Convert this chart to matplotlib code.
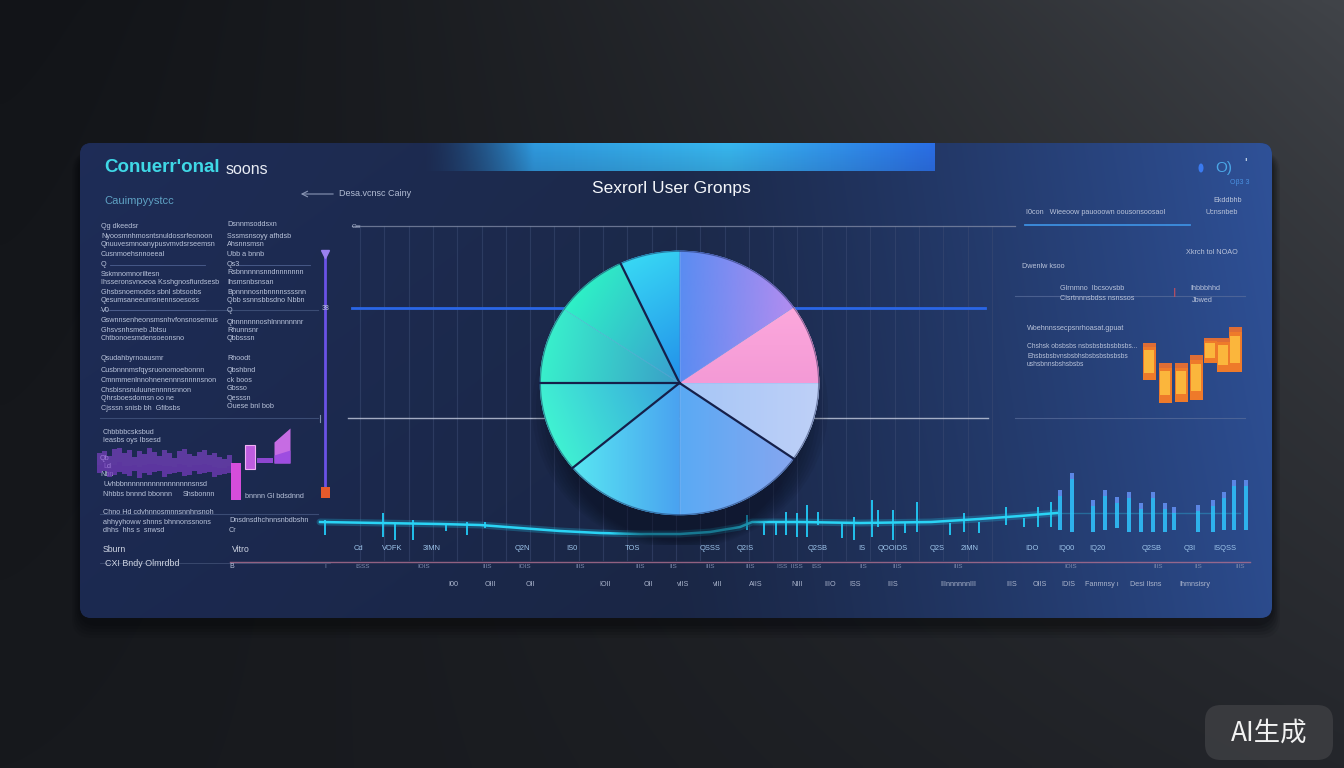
import numpy as np
import matplotlib
matplotlib.use("Agg")
import matplotlib.pyplot as plt
from matplotlib.patches import FancyBboxPatch, Rectangle, Ellipse
from matplotlib.colors import to_rgb

plt.rcParams['font.family'] = ['Liberation Sans', 'DejaVu Sans']

# ---------------- data ----------------
# pie: user groups (angular share, degrees)
pie_groups = ["G1", "G2", "G3", "G4", "G5", "G6", "G7", "G8", "G9"]
pie_values = [35, 55, 25, 31, 34, 40, 50, 55, 35]
pie_c_in = ['#f49ad6', '#5a8cf2', '#2390ea', '#3a9cd0', '#3a9ec8', '#3aa2e0', '#4aa2f0', '#5aaaf4', '#a6c6f6']
pie_c_out = ['#fca8dc', '#b28cf0', '#38d8f4', '#2ef2c6', '#38f0cc', '#40f2d2', '#58e6f2', '#86a6f0', '#bed0f8']
pie_grad_dir = [90, 0, 125, 150, 170, 200, 180, 0, 0]
sep_dark = [False, False, False, True, False, True, True, False, True]  # boundary at start of each slice

# bottom line series (x position, level)
line_x = [320, 380, 440, 480, 520, 560, 600, 640, 680, 710, 740, 752, 800, 860, 931, 979, 1020, 1057]
line_v = [38, 37, 36, 35, 32, 29, 27, 26, 26, 28, 33, 38, 38, 37, 38, 41, 44, 47]

# spikes (x position, top level, bottom level)
spike_x = [325, 383, 395, 413, 446, 467, 485, 747, 764, 776, 786, 797, 807, 818, 842, 854, 872, 878,
           893, 905, 917, 950, 964, 979, 1006, 1024, 1038, 1051]
spike_top = [40, 47, 37, 40, 37, 38, 38, 45, 38, 38, 48, 47, 55, 48, 38, 43, 60, 50,
             50, 38, 58, 37, 47, 38, 53, 42, 53, 58]
spike_bot = [25, 23, 20, 20, 29, 25, 32, 30, 25, 25, 25, 23, 23, 35, 22, 20, 23, 33,
             20, 27, 28, 25, 28, 27, 35, 33, 33, 33]

# right-side bars
bar_x = [1060, 1072, 1093, 1105, 1117, 1129, 1141, 1153, 1165, 1174, 1198, 1213, 1224, 1234, 1246]
bar_top = [70, 87, 60, 70, 63, 68, 57, 68, 57, 53, 55, 60, 68, 80, 80]
bar_bot = [30, 28, 28, 30, 32, 28, 28, 28, 28, 30, 28, 28, 30, 30, 30]

# left purple mini chart
pur_x = list(range(99, 230, 5))
pur_top = [52, 54, 49, 56, 57, 52, 55, 48, 54, 51, 57, 53, 49, 55, 52, 47, 54, 56, 51, 49, 53, 55, 50, 52, 48, 46, 50]
pur_bot = [32, 34, 28, 30, 33, 31, 29, 34, 27, 32, 30, 33, 34, 28, 31, 32, 33, 29, 30, 34, 31, 32, 33, 28, 30, 31, 32]
pk_x = [236, 250, 265]
pk_top = [42, 60, 47]
pk_bot = [5, 36, 42]
ramp_x = [274, 290]
ramp_top = [63, 77]
ramp_bot = [42, 42]

# right orange floating bars
or_x = [1149, 1165, 1181, 1196, 1210, 1223, 1235]
or_top = [67, 47, 47, 55, 72, 72, 83]
or_bot = [30, 7, 8, 10, 47, 38, 38]

# bottom axis tick labels
tick1_x = [358, 392, 432, 522, 572, 632, 710, 745, 818, 862, 893, 937, 970, 1032, 1066, 1097, 1152, 1190, 1225]
tick1 = ["Cd", "VOFK", "3IMN", "Q2N", "IS0", "TOS", "QSSS", "Q2IS", "Q2SB", "IS", "QOOIDS", "Q2S",
         "2IMN", "IDO", "IQ00", "IQ20", "Q2SB", "Q3I", "ISQSS"]
tick2_x = [325, 363, 424, 487, 525, 580, 640, 673, 710, 750, 790, 817, 863, 897, 958, 1071, 1158, 1198, 1240]
tick2 = ["I", "ISSS", "IOIS", "IIIS", "IOIS", "IIIS", "IIIS", "IIS", "IIIS", "IIIS", "ISS  IISS", "ISS",
         "IIS", "IIIS", "IIIS", "IOIS", "IIIS", "IIS", "IIIS"]
tick3_x = [453, 490, 530, 605, 648, 683, 718, 756, 797, 830, 855, 893, 958, 1012, 1040, 1068, 1102, 1146, 1195]
tick3 = ["I00", "OIII", "OII", "IOII", "OII", "vIIS", "vIII", "AIIS", "NIII", "IIIO", "ISS", "IIIS",
         "IIInnnnnnIII", "IIIS", "OIIS", "IDIS", "Fanmnsy \u0131", "Desi Ilsns", "Ihmnsisry"]

W, H = 1344, 768
fig = plt.figure(figsize=(13.44, 7.68), dpi=100)

bg = fig.add_axes([0, 0, 1, 1])
bg.set_xlim(0, W)
bg.set_ylim(H, 0)
bg.axis('off')

# ---- background gradient ----
gy, gx = np.mgrid[0:1:192j, 0:1:336j]
tl = np.array(to_rgb('#121418')); tr = np.array(to_rgb('#414449'))
bl = np.array(to_rgb('#17191d')); br = np.array(to_rgb('#24262b'))
tx = (gx ** 1.4)[..., None]; ty = gy[..., None] ** 0.8
img = (tl * (1 - tx) + tr * tx) * (1 - ty) + (bl * (1 - tx) + br * tx) * ty
bg.imshow(img, extent=(0, W, H, 0), aspect='auto', zorder=0, interpolation='bilinear')

# panel shadow (mostly below)
for i, a in enumerate([0.08, 0.10, 0.12, 0.14, 0.16]):
    pad = 16 - i * 3
    bg.add_patch(FancyBboxPatch((80 - pad / 2, 152), 1192 + pad, 470 + pad,
                                boxstyle="round,pad=0,rounding_size=20",
                                fc='#050608', ec='none', alpha=a, zorder=1))

# ---- panel ----
panel = FancyBboxPatch((80, 143), 1192, 475, boxstyle="round,pad=0,rounding_size=12",
                       fc='#1d2c54', ec='none', zorder=2)
bg.add_patch(panel)
py, px = np.mgrid[0:1:120j, 0:1:300j]
cl = np.array(to_rgb('#1d2b54')); cm = np.array(to_rgb('#1b2848')); cr = np.array(to_rgb('#2d4e92'))
t = px[..., None]
left_part = cl * (1 - np.clip(t / 0.5, 0, 1)) + cm * np.clip(t / 0.5, 0, 1)
right_t = np.clip((t - 0.5) / 0.5, 0, 1) ** 1.2
pimg = np.where(t < 0.5, left_part, cm * (1 - right_t) + cr * right_t)
pimg = pimg * (1.04 - 0.08 * py[..., None])
pim = bg.imshow(np.clip(pimg, 0, 1), extent=(80, 1272, 618, 143), aspect='auto', zorder=2.1,
                interpolation='bilinear')
pim.set_clip_path(panel)

# top gradient band
bx = np.linspace(0, 1, 300)
band = np.zeros((20, 300, 4))
c_a = np.array(to_rgb('#2a8ad6')); c_b = np.array(to_rgb('#38b8f0')); c_c = np.array(to_rgb('#2a6ee6'))
for j, v in enumerate(bx):
    if v < 0.6:
        col = c_a * (1 - v / 0.6) + c_b * (v / 0.6)
    else:
        col = c_b * (1 - (v - 0.6) / 0.4) + c_c * ((v - 0.6) / 0.4)
    band[:, j, :3] = col
    band[:, j, 3] = min(1.0, v / 0.22) ** 1.5
band[:, :, 3] *= np.linspace(1.0, 0.85, 20)[:, None]
bim = bg.imshow(band, extent=(420, 935, 171, 143), aspect='auto', zorder=2.5, interpolation='bilinear')
bim.set_clip_path(panel)

# ---- grid in chart area ----
for gxp in np.arange(360, 1015, 24.3):
    bg.plot([gxp, gxp], [226, 560], color='#3b4a72', lw=0.8, alpha=0.55, zorder=3)
bg.plot([352, 1015], [226, 226], color='#7d87a3', lw=0.9, alpha=0.8, zorder=3)
bg.plot([352, 985], [308, 308], color='#2a66e6', lw=2.0, zorder=3)
bg.plot([348, 988], [418, 418], color='#c6cde0', lw=1.0, alpha=0.8, zorder=3)
bg.plot([1015, 1245], [296, 296], color='#5a6e9c', lw=0.8, alpha=0.7, zorder=3)
bg.plot([1015, 1245], [418, 418], color='#5a6e9c', lw=0.8, alpha=0.7, zorder=3)
bg.plot([1025, 1190], [225, 225], color='#3d8fe0', lw=1.3, zorder=3)
for yy in [310, 418, 514]:
    bg.plot([100, 318], [yy, yy], color='#44557e', lw=0.8, alpha=0.8, zorder=3)
bg.plot([230, 1250], [562, 562], color='#b07090', lw=1.0, alpha=0.8, zorder=3)
bg.plot([100, 330], [563, 563], color='#55658a', lw=0.6, alpha=0.6, zorder=3)
bg.text(352, 226, "Ow", fontsize=4.5, color='#b8c2da', va='center', ha='left', zorder=4)

# vertical purple marker line
bg.plot([325, 325], [252, 492], color='#6a52e6', lw=2, zorder=4)
bg.plot([325], [254], marker='v', ms=6, color='#9a80f0', zorder=5)
bg.add_patch(Rectangle((321, 487), 9, 11, fc='#e45a2c', ec='none', zorder=5))
bg.text(322, 308, "38", fontsize=5, color='#c0c8dc', va='center', ha='left', zorder=4)
bg.plot([320, 320], [415, 422], color='#8090b0', lw=0.8, zorder=4)

# ---- texts ----
bg.text(104, 168, "Conuerr'onal", fontsize=13.5, color='#3fd8e6', va='center', ha='left', zorder=6,
        fontweight='bold')
bg.text(226, 169, "soons", fontsize=11.5, color='#e8ecf4', va='center', ha='left', zorder=6)
bg.text(104, 201, "Cauimpyystcc", fontsize=8, color='#5fa2c4', va='center', ha='left', zorder=6)
bg.annotate("", xy=(298, 194), xytext=(336, 194),
            arrowprops=dict(arrowstyle='->', color='#8a96b4', lw=0.8), zorder=6)
bg.text(339, 193, "Desa.vcnsc Cainy", fontsize=6.5, color='#b3bdd4', va='center', ha='left', zorder=6)
bg.text(671, 189, "Sexrorl User Gronps", fontsize=12.5, color='#f4f6fa', va='center', ha='center', zorder=6)

tc = '#b9c3da'
col1 = [(226, "Qg dkeedsr"), (236, "Nyoosmnhmosntsnuldossrfeonoon"), (245, "Qnuuvesmnoanypusvmvdsrseemsn"),
        (254, "Cusnmoehsnnoeeal"), (265, "Q"), (274, "Sskmnomnoriltesn"),
        (283, "Ihsseronsvnoeoa Ksshgnosfiurdsesb"), (292, "Ghsbsnoemodss sbnl sbtsoobs"),
        (301, "Qesumsaneeumsnennsoesoss"), (310, "V0"), (321, "Gswnnsenheonsmsnhvfonsnosemus"),
        (330, "Ghsvsnhsmeb Jbtsu"), (338, "Chtbonoesmdensoeonsno"), (358, "Qsudahbyrnoausmr"),
        (370, "Cusbnnnmsfqysruonomoebonnn"), (381, "Cmnmmenlnnohnenennnsnnnnsnon"),
        (390, "Chsbisnsnuluunennnnsnnon"), (399, "Qhrsboesdomsn oo ne"), (408, "Cjsssn snisb bh  Gfibsbs")]
col2 = [(225, "Dsnnmsoddsxn"), (237, "Sssmsnsoyy afhdsb"), (245, "Ahsnnsmsn"), (254, "Ubb a bnnb"),
        (264, "Qs3"), (273, "Rsbnnnnnsnndnnnnnnn"), (283, "Ihsmsnbsnsan"), (292, "Bpnnnnosnbnnnnssssnn"),
        (301, "Qbb ssnnsbbsdno Nbbn"), (310, "Q"), (322, "Qhnnnnnnoshlnnnnnnnr"), (330, "Rhunnsnr"),
        (339, "Qbbsssn"), (359, "Rhoodt"), (370, "Qbshbnd"), (380, "ck boos"), (389, "Gbsso"),
        (398, "Qesssn"), (407, "Ouese bnl bob")]
for yy, s in col1:
    bg.text(101, yy, s, fontsize=5.2, color=tc, va='center', ha='left', zorder=6)
for yy, s in col2:
    bg.text(227, yy, s, fontsize=5.2, color=tc, va='center', ha='left', zorder=6)
bg.plot([110, 205], [265, 265], color='#4e6090', lw=0.6, zorder=4)
bg.plot([238, 310], [265, 265], color='#4e6090', lw=0.6, zorder=4)
bg.plot([110, 205], [310, 310], color='#4e6090', lw=0.6, zorder=4)

low = [(103, 432, "Chbbbbcsksbud"), (103, 441, "Ieasbs oys Ibsesd"), (100, 459, "Qb"), (103, 466, "Ld"),
       (100, 475, "Nbn"), (103, 485, "Uvhbbnnnnnnnnnnnnnnnnnsnsd"), (103, 494, "Nhbbs bnnnd bbonnn"),
       (183, 494, "Shsbonnn"), (245, 497, "bnnnn Gl bdsdnnd"), (103, 513, "Chno Hd cdvhnnosmnnsnnhnsnoh"),
       (103, 522, "ahhyyhoww shnns bhnnonssnons"), (103, 531, "dhhs  hhs s  snwsd"),
       (229, 520, "Dnsdnsdhchnnsnbdbshn"), (229, 530, "Cr")]
for xx, yy, s in low:
    bg.text(xx, yy, s, fontsize=5.2, color=tc, va='center', ha='left', zorder=6)
bg.text(103, 549, "Sburn", fontsize=6.2, color='#d0d6e4', va='center', ha='left', zorder=6)
bg.text(232, 550, "Vitro", fontsize=6.2, color='#d0d6e4', va='center', ha='left', zorder=6)
bg.text(105, 563, "CXI Bndy Olmrdbd", fontsize=6.4, color='#d0d6e4', va='center', ha='left', zorder=6)
bg.text(229, 566, "B", fontsize=5, color=tc, va='center', ha='left', zorder=6)

# right texts
bg.add_patch(Ellipse((1201, 168), 5, 9, fc='#3a7af0', ec='none', zorder=6))
bg.text(1215, 168, "O)", fontsize=11, color='#4aa6e6', va='center', ha='left', zorder=6)
bg.text(1244, 164, "'", fontsize=10, color='#d0e0f0', va='center', ha='left', zorder=6)
bg.text(1230, 182, "Oβ3 3", fontsize=5, color='#4a90e0', va='center', ha='left', zorder=6)
bg.text(1213, 200, "Ekddbhb", fontsize=5.2, color=tc, va='center', ha='left', zorder=6)
bg.text(1026, 212, "I0con   Wieeoow pauooown oousonsoosaol", fontsize=5.2, color=tc, va='center', ha='left', zorder=6)
bg.text(1205, 212, "Ucnsnbeb", fontsize=5.2, color=tc, va='center', ha='left', zorder=6)
bg.text(1186, 252, "Xkrch tol NOAO", fontsize=5.2, color=tc, va='center', ha='left', zorder=6)
bg.text(1022, 267, "Dwenlw ksoo", fontsize=5.2, color=tc, va='center', ha='left', zorder=6)
bg.text(1060, 289, "Glrnmno  Ibcsovsbb", fontsize=5.2, color=tc, va='center', ha='left', zorder=6)
bg.text(1060, 299, "Clsrtnnnsbdss nsnssos", fontsize=5.2, color=tc, va='center', ha='left', zorder=6)
bg.text(1173, 294, "I", fontsize=9, color='#c05060', va='center', ha='left', zorder=6)
bg.text(1190, 289, "Ihbbbhhd", fontsize=5.2, color=tc, va='center', ha='left', zorder=6)
bg.text(1192, 300, "Jbwed", fontsize=5.2, color=tc, va='center', ha='left', zorder=6)
bg.text(1027, 328, "Woehnnssecpsnrhoasat.gpuat", fontsize=5.2, color=tc, va='center', ha='left', zorder=6)
bg.text(1027, 347, "Chshsk obsbsbs nsbsbsbsbsbbsbs...", fontsize=4.8, color=tc, va='center', ha='left', zorder=6)
bg.text(1027, 356, "Ehsbsbsbvnsbsbhsbsbsbsbsbsbs", fontsize=4.8, color=tc, va='center', ha='left', zorder=6)
bg.text(1027, 365, "ushsbnnsbshsbsbs", fontsize=4.8, color=tc, va='center', ha='left', zorder=6)

for xx, s in zip(tick1_x, tick1):
    bg.text(xx, 548, s, fontsize=5.4, color='#9fc6ec', va='center', ha='center', zorder=6)
for xx, s in zip(tick2_x, tick2):
    bg.text(xx, 567, s, fontsize=4.6, color='#7f8cae', va='center', ha='center', zorder=6)
for xx, s in zip(tick3_x, tick3):
    bg.text(xx, 584, s, fontsize=5.2, color='#aab4cc', va='center', ha='center', zorder=6)


def px_axes(x0, y0, x1, y1, z=5):
    a = fig.add_axes([x0 / W, 1 - y1 / H, (x1 - x0) / W, (y1 - y0) / H])
    a.set_zorder(z)
    a.patch.set_alpha(0)
    a.axis('off')
    return a


# ---- bottom line / spikes chart (value = 560 - pixel y) ----
axb = px_axes(300, 440, 1260, 560, z=4)
axb.set_xlim(300, 1260)
axb.set_ylim(0, 120)
axb.plot(line_x, line_v, color='#22c8f0', lw=5, alpha=0.25, solid_capstyle='round')
axb.plot(line_x, line_v, color='#2ad4f5', lw=1.8)
axb.plot([1057, 1240], [47, 47], color='#2ad4f5', lw=1.0, alpha=0.3)
axb.bar(spike_x, np.array(spike_top) - np.array(spike_bot), bottom=spike_bot, width=2.6,
        color='#22c6f2', alpha=0.95)
bt = np.array(bar_top); bb = np.array(bar_bot)
axb.bar(bar_x, bt - bb, bottom=bb, width=4.5, color='#2fb8f2', alpha=0.95)
axb.bar(bar_x, np.minimum(6, bt - bb), bottom=bt - np.minimum(6, bt - bb), width=4.5,
        color='#7a6ae0', alpha=0.6)

# ---- pie ----
axs = px_axes(520, 240, 840, 545, z=5.5)
axs.set_xlim(-1, 1); axs.set_ylim(-1, 1)
for k in range(8):
    axs.add_patch(Ellipse((0.0, -0.1 - 0.012 * k), 1.85 - 0.05 * k, 1.85 - 0.04 * k,
                          fc='#070b18', ec='none', alpha=0.07))
axp = px_axes(539, 250, 820, 516, z=6)
wedges, _ = axp.pie(pie_values, startangle=0, counterclock=True, radius=1,
                    colors=pie_c_in, wedgeprops=dict(lw=0))
axp.set_aspect('auto')
axp.set_xlim(-1, 1); axp.set_ylim(-1, 1)
gyy, gxx = np.mgrid[-1:1:240j, -1:1:240j]
rr = np.hypot(gxx, gyy)
th = np.degrees(np.arctan2(gyy, gxx)) % 360
starts = np.cumsum([0] + pie_values[:-1])
for w, c1, c2, ang, s0, v in zip(wedges, pie_c_in, pie_c_out, pie_grad_dir, starts, pie_values):
    a = np.deg2rad(ang)
    proj = gxx * np.cos(a) + gyy * np.sin(a)
    m = (rr <= 1) & (((th - s0) % 360) <= v)
    lo, hi = proj[m].min(), proj[m].max()
    tt = np.clip((proj - lo) / (hi - lo + 1e-9), 0, 1)[..., None]
    gim = np.array(to_rgb(c1)) * (1 - tt) + np.array(to_rgb(c2)) * tt
    im = axp.imshow(gim, extent=(-1, 1, -1, 1), origin='lower', aspect='auto',
                    interpolation='bilinear', zorder=2)
    im.set_clip_path(w)
for b, dark in zip(starts, sep_dark):
    a = np.deg2rad(b)
    if dark:
        axp.plot([0, np.cos(a)], [0, np.sin(a)], color='#15204a', lw=1.6, zorder=3)
    else:
        axp.plot([0, np.cos(a) * 0.99], [0, np.sin(a) * 0.99], color='#8fb6f0', lw=0.6, alpha=0.35, zorder=3)
ring = np.linspace(0, 2 * np.pi, 300)
axp.plot(np.cos(ring) * 0.995, np.sin(ring) * 0.995, color='#1a2550', lw=0.8, alpha=0.5, zorder=3)
axp.set_xlim(-1.005, 1.005); axp.set_ylim(-1.005, 1.005)

# ---- left purple mini chart (value = 505 - pixel y) ----
axl = px_axes(90, 420, 300, 505, z=5)
axl.set_xlim(90, 300); axl.set_ylim(0, 85)
pt = np.array(pur_top); pb = np.array(pur_bot)
axl.bar(pur_x, pt - pb, bottom=pb, width=5.0, color='#8a46d4', alpha=0.6)
axl.bar(pur_x, (pt - pb) * 0.4, bottom=pb, width=5.0, color='#5a2ea0', alpha=0.3)
kt = np.array(pk_top); kb = np.array(pk_bot)
axl.bar(pk_x, kt - kb, bottom=kb, width=[10, 10, 16], color=['#e050e4', '#c860e8', '#9448d8'], alpha=0.95)
axl.bar(pk_x[1], kt[1] - kb[1], bottom=kb[1], width=10, fc='none', ec='#f0b0f4', lw=0.8)
axl.fill_between(ramp_x, ramp_bot, ramp_top, color='#d070ec', alpha=0.95, lw=0)
axl.fill_between(ramp_x, ramp_bot, [50, 55], color='#9a4ae0', alpha=0.9, lw=0)

# ---- right orange chart (value = 410 - pixel y) ----
axo = px_axes(1140, 320, 1245, 410, z=5)
axo.set_xlim(1140, 1245); axo.set_ylim(0, 90)
ot = np.array(or_top); ob = np.array(or_bot)
axo.bar(or_x, ot - ob, bottom=ob, width=13, color='#ee7a2a')
axo.bar(or_x, (ot - ob) * 0.6, bottom=ob + (ot - ob) * 0.2, width=10, color='#fbb63c')
axo.bar(or_x, (ot - ob) * 0.12, bottom=ot - (ot - ob) * 0.12, width=13, color='#d8683a', alpha=0.7)

# ---- watermark ----
bg.add_patch(FancyBboxPatch((1205, 705), 128, 55, boxstyle="round,pad=0,rounding_size=16",
                            fc='#3b3c40', ec='none', alpha=0.92, zorder=8))
bg.text(1269, 733, "AI生成", fontsize=19, color='#f2f2f2', va='center', ha='center', zorder=9,
        family=['Noto Sans CJK SC', 'DejaVu Sans'])

fig.savefig("out.png", dpi=100)
